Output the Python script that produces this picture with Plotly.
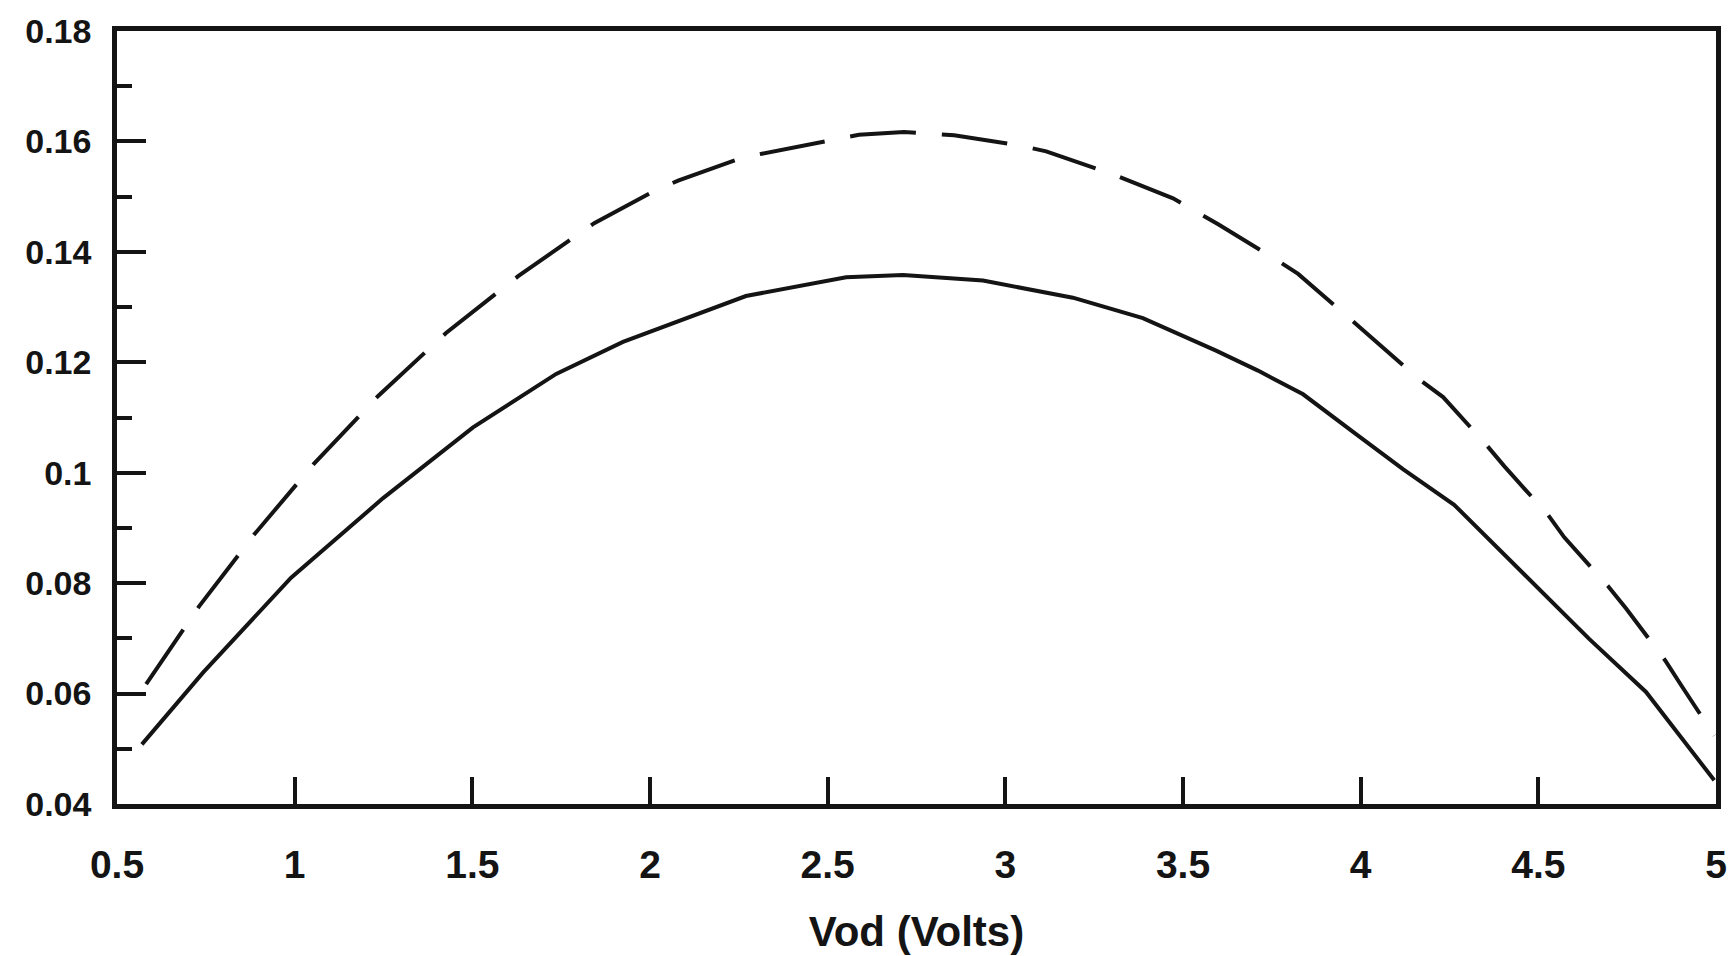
import plotly.graph_objects as go

# Solid curve
solid_x = [0.570, 0.742, 0.990, 1.249, 1.502, 1.736, 1.924, 2.270, 2.552, 2.712, 2.937,
           3.190, 3.387, 3.480, 3.593, 3.711, 3.838, 3.987, 4.120, 4.263, 4.643, 4.803, 4.995]
solid_y = [0.0508, 0.0638, 0.0810, 0.0954, 0.1082, 0.1179, 0.1237, 0.1320, 0.1354, 0.1358, 0.1348,
           0.1317, 0.1280, 0.1254, 0.1221, 0.1185, 0.1142, 0.1070, 0.1006, 0.0942, 0.0699, 0.0603, 0.0443]

# Dashed curve
dash_x = [0.582, 0.731, 0.886, 1.054, 1.235, 1.426, 1.629, 1.783, 1.843, 2.011, 2.079, 2.262,
          2.588, 2.715, 2.856, 3.039, 3.115, 3.292, 3.362, 3.472, 3.537, 3.599, 3.762, 3.824,
          3.968, 4.165, 4.232, 4.353, 4.404, 4.528, 4.573, 4.697, 4.747, 4.857, 4.902, 4.995]
dash_y = [0.0617, 0.0758, 0.0888, 0.1016, 0.1139, 0.1253, 0.1356, 0.1425, 0.1452, 0.1510, 0.1529, 0.1571,
          0.1612, 0.1617, 0.1611, 0.1593, 0.1582, 0.1543, 0.1525, 0.1497, 0.1473, 0.1450, 0.1386, 0.1360,
          0.1280, 0.1169, 0.1137, 0.1051, 0.1012, 0.0923, 0.0883, 0.0794, 0.0754, 0.0660, 0.0615, 0.0524]

x_ticks = [0.5, 1, 1.5, 2, 2.5, 3, 3.5, 4, 4.5, 5]
x_ticktext = ["0.5", "1", "1.5", "2", "2.5", "3", "3.5", "4", "4.5", "5"]
y_ticks = [0.04, 0.06, 0.08, 0.10, 0.12, 0.14, 0.16, 0.18]
y_ticktext = ["0.04", "0.06", "0.08", "0.1", "0.12", "0.14", "0.16", "0.18"]
y_minor = [0.05, 0.07, 0.09, 0.11, 0.13, 0.15, 0.17]

ink = "#141414"
fam = "Liberation Sans, Arial, sans-serif"
fig = go.Figure()
fig.add_trace(go.Scatter(x=solid_x, y=solid_y, mode="lines",
                         line=dict(color=ink, width=4), showlegend=False))
fig.add_trace(go.Scatter(x=dash_x, y=dash_y, mode="lines",
                         line=dict(color=ink, width=4, dash="66px,26px"), showlegend=False))

fig.update_layout(
    width=1736, height=956,
    margin=dict(l=109, r=28, t=23, b=160, autoexpand=False),
    paper_bgcolor="white", plot_bgcolor="white",
    font=dict(family=fam, color=ink),
)
fig.update_xaxes(
    range=[0.5, 5], tickvals=x_ticks, ticktext=x_ticktext,
    showgrid=False, zeroline=False, automargin=False,
    showline=True, linewidth=4.5, linecolor=ink, mirror=True,
    ticks="inside", ticklen=27, tickwidth=4, tickcolor=ink,
    ticklabelstandoff=22, ticklabeloverflow="allow",
    tickfont=dict(size=39, family=fam, color=ink, weight="bold"),
    title=dict(text="<b>Vod (Volts)</b>", standoff=34,
               font=dict(size=42, family=fam, color=ink)),
)
fig.update_yaxes(
    range=[0.04, 0.18], tickvals=y_ticks, ticktext=y_ticktext,
    showgrid=False, zeroline=False, automargin=False,
    showline=True, linewidth=4.5, linecolor=ink, mirror=True,
    ticks="inside", ticklen=29, tickwidth=4, tickcolor=ink,
    ticklabelstandoff=14, ticklabeloverflow="allow",
    tickfont=dict(size=34, family=fam, color=ink, weight="bold"),
    minor=dict(ticks="inside", ticklen=15, tickwidth=4, tickcolor=ink,
               tickvals=y_minor, showgrid=False),
)

fig.write_html("out.html")
